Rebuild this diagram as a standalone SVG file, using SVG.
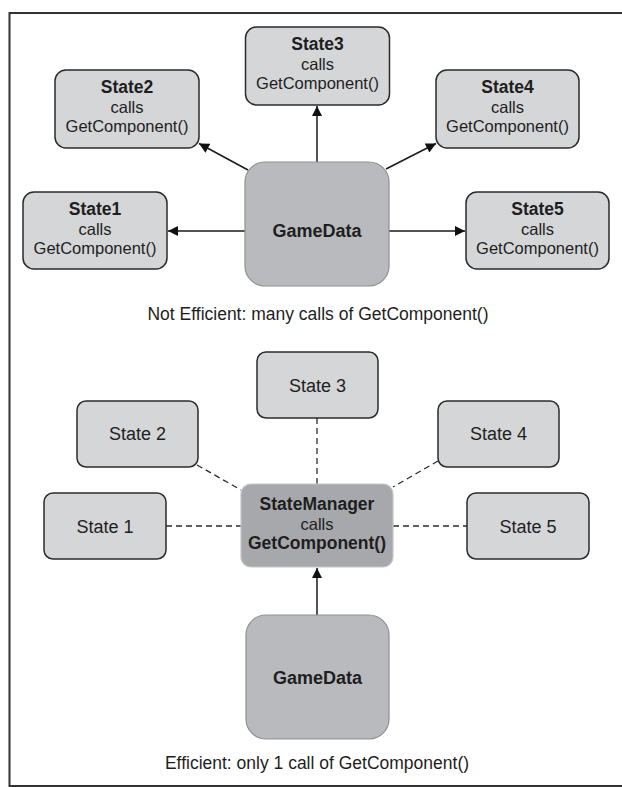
<svg xmlns="http://www.w3.org/2000/svg" width="622" height="787" viewBox="0 0 622 787">
<defs>
<style>
text{font-family:"Liberation Sans",Arial,sans-serif;fill:#1e1e1e;text-anchor:middle}
.b{font-weight:bold;font-size:17.5px}
.r{font-size:16.5px}
.lbl{font-size:18px}
.cap{font-size:17.5px}
.st{fill:#d5d6d8;stroke:#2b2b2b;stroke-width:1.5}
.gd{fill:#b9babd;stroke:#8e8f92;stroke-width:1.2}
.sm{fill:#a7a8ab;stroke:#c4c5c7;stroke-width:1.2}
.arr{stroke:#1a1a1a;stroke-width:1.5;fill:none;marker-end:url(#ah)}
.dash{stroke:#2b2b2b;stroke-width:1.3;fill:none;stroke-dasharray:6,4}
</style>
<marker id="ah" viewBox="0 0 10 10" refX="10" refY="5" markerWidth="11" markerHeight="10" markerUnits="userSpaceOnUse" orient="auto">
<path d="M0,0 L10,5 L0,10 Z" fill="#111"/>
</marker>
</defs>
<rect width="622" height="787" fill="#fff"/>
<g id="frame" fill="none" stroke="#333" stroke-width="2">
<path d="M622,13 H9.5 V786 H622"/>
</g>
<g id="connectors">
<line class="arr" x1="317" y1="162" x2="317" y2="106"/>
<line class="arr" x1="248" y1="170" x2="199" y2="143.5"/>
<line class="arr" x1="386" y1="169" x2="436" y2="143.5"/>
<line class="arr" x1="245" y1="231" x2="168" y2="231"/>
<line class="arr" x1="389" y1="231" x2="465" y2="231"/>
<line class="dash" x1="317" y1="418" x2="317" y2="484"/>
<line class="dash" x1="197" y1="465" x2="241" y2="490"/>
<line class="dash" x1="438" y1="461" x2="393" y2="487"/>
<line class="dash" x1="166" y1="526" x2="241" y2="526"/>
<line class="dash" x1="393" y1="526" x2="467" y2="526"/>
<line class="arr" x1="317" y1="615" x2="317" y2="568"/>
</g>
<g id="state3">
<rect class="st" x="245.5" y="27" width="144" height="78" rx="11"/>
<text class="b" x="317.5" y="50">State3</text>
<text class="r" x="317.5" y="69.5">calls</text>
<text class="r" x="317.5" y="89">GetComponent()</text>
</g>
<g id="state2">
<rect class="st" x="55" y="70" width="144" height="78" rx="11"/>
<text class="b" x="127" y="93">State2</text>
<text class="r" x="127" y="112.5">calls</text>
<text class="r" x="127" y="132">GetComponent()</text>
</g>
<g id="state4">
<rect class="st" x="436" y="70" width="143" height="78" rx="11"/>
<text class="b" x="507.5" y="93">State4</text>
<text class="r" x="507.5" y="112.5">calls</text>
<text class="r" x="507.5" y="132">GetComponent()</text>
</g>
<g id="state1">
<rect class="st" x="23" y="192" width="144" height="77" rx="11"/>
<text class="b" x="95" y="215">State1</text>
<text class="r" x="95" y="234.5">calls</text>
<text class="r" x="95" y="254">GetComponent()</text>
</g>
<g id="state5">
<rect class="st" x="466" y="192" width="143" height="77" rx="11"/>
<text class="b" x="537.5" y="215">State5</text>
<text class="r" x="537.5" y="234.5">calls</text>
<text class="r" x="537.5" y="254">GetComponent()</text>
</g>
<g id="gamedata1">
<rect class="gd" x="245" y="162" width="144" height="124" rx="20"/>
<text class="b" x="317" y="237" style="font-size:18px">GameData</text>
</g>
<text class="cap" x="318" y="320">Not Efficient: many calls of GetComponent()</text>
<g id="s3">
<rect class="st" x="257" y="352" width="121" height="66" rx="9"/>
<text class="lbl" x="317.5" y="391.5">State 3</text>
</g>
<g id="s2">
<rect class="st" x="77" y="401" width="121" height="66" rx="9"/>
<text class="lbl" x="137.5" y="440">State 2</text>
</g>
<g id="s4">
<rect class="st" x="438" y="401" width="121" height="66" rx="9"/>
<text class="lbl" x="498.5" y="440">State 4</text>
</g>
<g id="s1">
<rect class="st" x="44" y="493" width="122" height="66" rx="9"/>
<text class="lbl" x="105" y="532.5">State 1</text>
</g>
<g id="s5">
<rect class="st" x="467" y="493" width="122" height="66" rx="9"/>
<text class="lbl" x="528" y="532.5">State 5</text>
</g>
<g id="statemanager">
<rect class="sm" x="241" y="484" width="152" height="83" rx="10"/>
<text class="b" x="317" y="510">StateManager</text>
<text class="r" x="317" y="529.5">calls</text>
<text class="b" x="317" y="549">GetComponent()</text>
</g>
<g id="gamedata2">
<rect class="gd" x="246" y="615" width="143" height="124" rx="20"/>
<text class="b" x="317.5" y="684" style="font-size:18px">GameData</text>
</g>
<text class="cap" x="317" y="769">Efficient: only 1 call of GetComponent()</text>
</svg>
